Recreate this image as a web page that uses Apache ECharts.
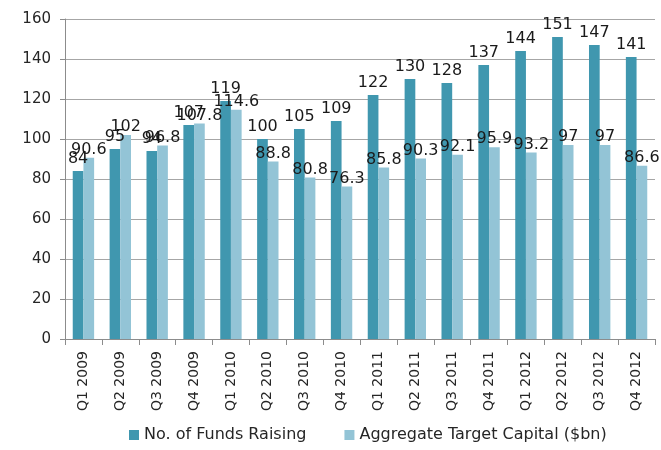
<!DOCTYPE html>
<html>
<head>
<meta charset="utf-8">
<script src="https://cdn.jsdelivr.net/npm/echarts@6/dist/echarts.min.js"></script>
<style>
	html, body { margin: 0; padding: 0; background: #fff; }
	#chart { width: 661px; height: 450px; }
</style>
</head>
<body>
<div id="chart"></div>
<script>
	// 季度
	const quarters = ['Q1 2009', 'Q2 2009', 'Q3 2009', 'Q4 2009', 'Q1 2010', 'Q2 2010', 'Q3 2010', 'Q4 2010',
		'Q1 2011', 'Q2 2011', 'Q3 2011', 'Q4 2011', 'Q1 2012', 'Q2 2012', 'Q3 2012', 'Q4 2012'];
	const funds_raising = [84, 95, 94, 107, 119, 100, 105, 109, 122, 130, 128, 137, 144, 151, 147, 141];
	const target_capital = [90.6, 102, 96.8, 107.8, 114.6, 88.8, 80.8, 76.3, 85.8, 90.3, 92.1, 95.9, 93.2, 97, 97, 86.6];

	const font = '"DejaVu Sans", "Noto Sans", sans-serif';
	let chart = echarts.init(document.getElementById('chart'));

	let options = {
		animation: false,
		textStyle: { fontFamily: font },
		color: ['#4097AF', '#93C4D6'],
		grid: { left: 65, right: 6, top: 19, bottom: 111 },
		legend: {
			bottom: 2,
			left: 124,
			itemWidth: 10,
			itemHeight: 10,
			itemGap: 38,
			icon: 'rect',
			textStyle: { fontSize: 16, color: '#262626', fontFamily: font },
			data: ['No. of Funds Raising', 'Aggregate Target Capital ($bn)']
		},
		xAxis: {
			type: 'category',
			data: quarters,
			axisLine: { lineStyle: { color: '#8c8c8c' } },
			axisTick: { show: true, length: 6, lineStyle: { color: '#8c8c8c' } },
			axisLabel: { rotate: 90, fontSize: 14, color: '#262626', margin: 12, fontFamily: font }
		},
		yAxis: {
			type: 'value',
			min: 0,
			max: 160,
			interval: 20,
			axisLine: { show: true, lineStyle: { color: '#8c8c8c' } },
			axisTick: { show: true, length: 5, lineStyle: { color: '#8c8c8c' } },
			splitLine: { lineStyle: { color: '#a6a6a6' } },
			axisLabel: { fontSize: 15, color: '#262626', margin: 14, fontFamily: font }
		},
		series: [
			{
				name: 'No. of Funds Raising',
				type: 'bar',
				data: funds_raising,
				barGap: '0%',
				barCategoryGap: '42%',
				label: { show: true, position: 'top', distance: 4, fontSize: 16, color: '#1a1a1a', fontFamily: font }
			},
			{
				name: 'Aggregate Target Capital ($bn)',
				type: 'bar',
				data: target_capital,
				label: { show: true, position: 'top', distance: 0, fontSize: 16, color: '#1a1a1a', fontFamily: font }
			}
		]
	};
	chart.setOption(options);
</script>
</body>
</html>
